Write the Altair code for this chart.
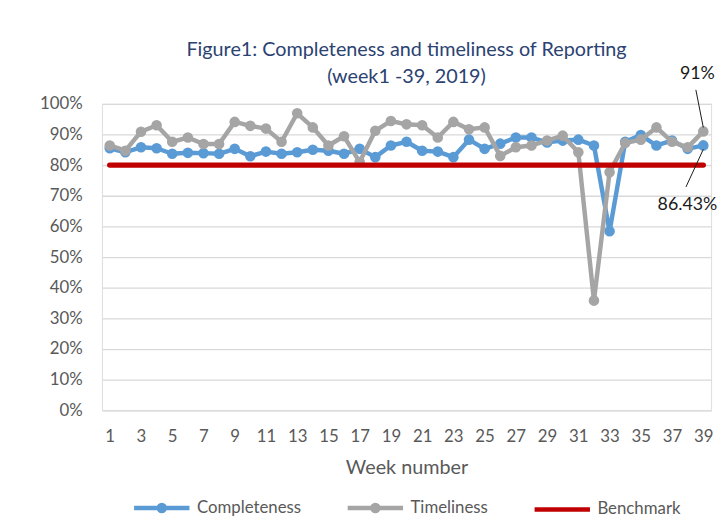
import altair as alt
import pandas as pd

# ---- data ----
weeks = list(range(1, 40))
completeness = [85.5, 84.2, 85.8, 85.5, 83.7, 84.0, 83.9, 83.7, 85.3, 82.9,
                84.4, 83.7, 84.2, 85.0, 84.7, 83.7, 85.3, 82.6, 86.4, 87.6,
                84.7, 84.4, 82.6, 88.3, 85.3, 87.0, 89.0, 89.0, 87.4, 88.0,
                88.3, 86.4, 58.4, 87.6, 89.8, 86.4, 88.0, 85.3, 86.43]
timeliness = [86.4, 84.7, 90.9, 93.0, 87.6, 89.0, 86.9, 86.9, 94.1, 92.8,
              91.9, 87.6, 96.9, 92.3, 86.4, 89.4, 81.0, 91.2, 94.4, 93.3,
              93.0, 89.0, 94.1, 91.7, 92.3, 83.0, 85.8, 86.4, 88.0, 89.6,
              84.2, 35.8, 77.7, 87.2, 88.3, 92.3, 87.6, 85.8, 91.0]
benchmark = [80] * 39
series_names = ["Completeness", "Timeliness", "Benchmark"]
series_colors = ["#5B9BD5", "#A5A5A5", "#C00000"]
x_tick_labels = list(range(1, 40, 2))
y_ticks = [0, 0.1, 0.2, 0.3, 0.4, 0.5, 0.6, 0.7, 0.8, 0.9, 1.0]
ann_labels = ["91%", "86.43%"]
ann_series = ["Timeliness", "Completeness"]

rows = []
for name, vals in zip(series_names, [completeness, timeliness, benchmark]):
    for w, v in zip(weeks, vals):
        rows.append({"week": w, "series": name, "value": v / 100.0})
df = pd.DataFrame(rows)

ann_rows = []
for lab, s in zip(ann_labels, ann_series):
    v = df[(df.series == s) & (df.week == 39)].value.iloc[0]
    ann_rows.append({"week": 39, "value": v, "label": lab, "series": s})
ann = pd.DataFrame(ann_rows)

FONT = "Lato"
GREY_TXT = "#595959"

x_axis = alt.Axis(values=x_tick_labels, labelAngle=0, title="Week number",
                  domain=False, ticks=False, tickSize=0, grid=False,
                  labelFont=FONT, labelFontSize=17, labelColor=GREY_TXT,
                  labelPadding=19, titleFont=FONT, titleFontSize=20,
                  titleFontWeight="normal", titleColor=GREY_TXT, titlePadding=13)
y_axis = alt.Axis(values=y_ticks, tickCount=len(y_ticks), format=".0%", title=None, domain=False,
                  ticks=False, tickSize=0, grid=True, gridColor="#D9D9D9",
                  gridWidth=1.3, labelFont=FONT, labelFontSize=17, labelOverlap=False,
                  labelColor=GREY_TXT, labelPadding=20)
x_scale = alt.Scale(type="point", padding=0.5)
y_scale = alt.Scale(domain=[0, 1], nice=False)


def xe():
    return alt.X("week:O", scale=x_scale, axis=x_axis)


def ye():
    return alt.Y("value:Q", scale=y_scale, axis=y_axis)


base = alt.Chart(df).encode(x=xe(), y=ye())


def series_line(name, color, width):
    return base.transform_filter(alt.datum.series == name).mark_line(
        color=color, strokeWidth=width, strokeCap="round", strokeJoin="round")


def series_points(name, color):
    return base.transform_filter(alt.datum.series == name).mark_circle(
        color=color, size=115, opacity=1)


line_c = series_line("Completeness", series_colors[0], 4.5)
pts_c = series_points("Completeness", series_colors[0])
line_t = series_line("Timeliness", series_colors[1], 4.5)
pts_t = series_points("Timeliness", series_colors[1])
line_b = series_line("Benchmark", series_colors[2], 5.5)

lc_path = "M-1,0L1,0M0.11,0A0.11,0.11,0,1,1,-0.11,0A0.11,0.11,0,1,1,0.11,0Z"
line_path = "M-1,0L1,0"
leg = alt.Legend(title=None, orient="none", legendX=30, legendY=378, direction="horizontal",
                 symbolSize=3136, symbolStrokeWidth=4.5, symbolOpacity=1,
                 labelFont=FONT, labelFontSize=17, labelColor=GREY_TXT,
                 labelOffset=5, columnPadding=37)
legend_layer = alt.Chart(df).mark_point(opacity=0, filled=True).encode(
    x=xe(), y=ye(),
    fill=alt.Fill("series:N", scale=alt.Scale(domain=series_names, range=series_colors), legend=leg),
    stroke=alt.Stroke("series:N", scale=alt.Scale(domain=series_names, range=series_colors), legend=leg),
    shape=alt.Shape("series:N", scale=alt.Scale(domain=series_names, range=[lc_path, lc_path, line_path]), legend=leg),
)

ann_base = alt.Chart(ann).encode(x=xe(), y=ye(), text="label:N")
txt_91 = ann_base.transform_filter(alt.datum.series == "Timeliness").mark_text(
    font=FONT, fontSize=18, color="#1A1A1A", dx=-6, dy=-58)
txt_86 = ann_base.transform_filter(alt.datum.series == "Completeness").mark_text(
    font=FONT, fontSize=18, color="#1A1A1A", dx=-16, dy=60)
rule_base = alt.Chart(ann).encode(x=xe(), y=ye(),
                                  x2=alt.X2("week"), y2=alt.Y2("value"))
lead_91 = rule_base.transform_filter(alt.datum.series == "Timeliness").mark_rule(
    color="#1A1A1A", strokeWidth=1, yOffset=-4, x2Offset=-7.5, y2Offset=-42)
lead_86 = rule_base.transform_filter(alt.datum.series == "Completeness").mark_rule(
    color="#1A1A1A", strokeWidth=1, yOffset=4, x2Offset=-17.5, y2Offset=42)

chart = alt.layer(
    line_c, pts_c, line_t, pts_t, line_b, legend_layer,
    lead_91, lead_86, txt_91, txt_86
).properties(
    width=616, height=310,
    padding={"left": 95, "top": 94, "right": 9, "bottom": 106},
    autosize=alt.AutoSizeParams(type="none"),
    title=alt.TitleParams(["Figure1: Completeness and timeliness of Reporting", "(week1 -39, 2019)"],
                          font=FONT, fontSize=20, fontWeight="normal", color="#2B4272",
                          anchor="middle", frame="group", lineHeight=27, offset=-22),
).configure_view(stroke=None).configure(background="white")

chart.save("out.html", embed_options={"renderer": "svg", "actions": False})
